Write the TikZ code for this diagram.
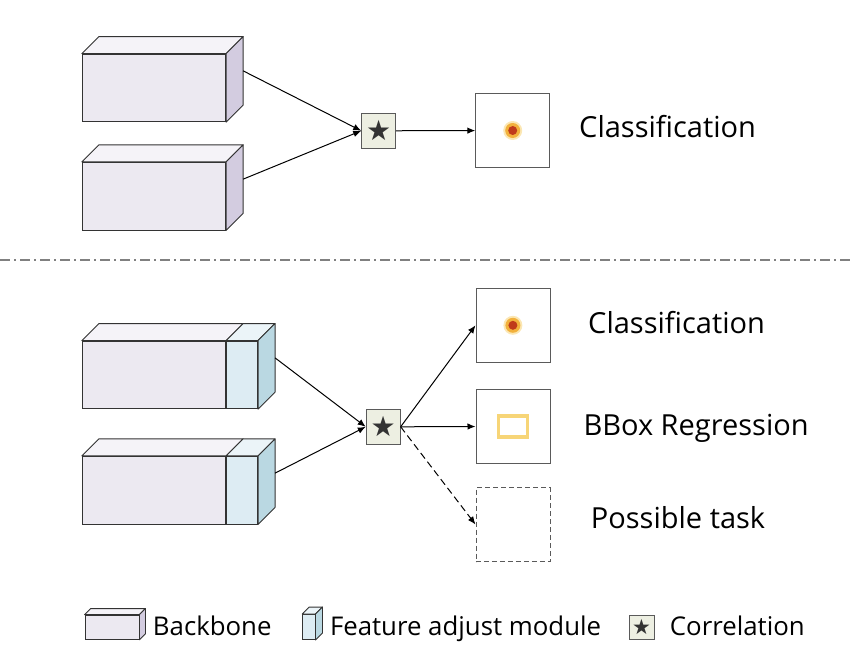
\documentclass[tikz,border=0pt]{standalone}
\usepackage{fontspec}
\setmainfont{Open Sans}
\newfontfamily\symfont{DejaVu Sans}
\usetikzlibrary{positioning,calc,arrows.meta}

\definecolor{bbfront}{HTML}{ECE9F1}
\definecolor{bbtop}{HTML}{F5F3F8}
\definecolor{bbside}{HTML}{D3CCE0}
\definecolor{fafront}{HTML}{DDECF3}
\definecolor{fatop}{HTML}{EBF4F8}
\definecolor{faside}{HTML}{BAD8E2}
\definecolor{corrfill}{HTML}{EDEFE2}
\definecolor{edge}{HTML}{333333}
\definecolor{boxedge}{HTML}{5A5A5A}
\definecolor{bboxgold}{HTML}{F7D577}
\definecolor{dotred}{HTML}{C03A1A}
\definecolor{dotring}{HTML}{F2B13C}
\definecolor{dothalo}{HTML}{FBE7B4}

% top and side face of a box drawn on a front node
\newcommand{\topface}[3]{%
  \draw[edge,fill=#3,line width=0.9pt,line join=round]
    (#1.north west) -- ++(#2,-#2) -- ($(#1.north east)+(#2,-#2)$) -- (#1.north east) -- cycle;}
\newcommand{\sideface}[3]{%
  \draw[edge,fill=#3,line width=0.9pt,line join=round]
    (#1.north east) -- ++(#2,-#2) -- ($(#1.south east)+(#2,-#2)$) -- (#1.south east) -- cycle;}

\begin{document}
\begin{tikzpicture}[
x=1pt,y=-1pt,
face/.style={
  draw=edge,
  line width=0.9pt,
  inner sep=0pt
},
backbone/.style={
  face,
  fill=bbfront,
  minimum width=143.4pt,
  minimum height=67.7pt
},
adjust/.style={
  face,
  fill=fafront,
  minimum width=31pt,
  minimum height=67.7pt
},
corr/.style={
  draw=boxedge,
  fill=corrfill,
  line width=0.9pt,
  text=edge,
  inner sep=0pt,
  minimum width=34pt,
  minimum height=35pt,
  font=\symfont\fontsize{28}{28}\selectfont
},
outbox/.style={
  draw=boxedge,
  line width=0.8pt,
  minimum size=74pt,
  inner sep=0pt
},
task/.style={
  anchor=base west,
  inner sep=0pt,
  font=\fontsize{29}{34}\selectfont
},
legtext/.style={
  inner sep=0pt,
  anchor=base west,
  yshift=-8pt,
  font=\fontsize{25.8}{30}\selectfont
},
conn/.style={
  line width=1pt,
  -{Latex[length=8pt,width=6.5pt]}
}
]
\useasboundingbox (0,0) rectangle (852,656);

% upper part
\node[backbone] (bb1) at (154,87.85) {};
\topface{bb1}{17}{bbtop}
\sideface{bb1}{17}{bbside}
\node[backbone] (bb2) at (154,196.15) {};
\topface{bb2}{17}{bbtop}
\sideface{bb2}{17}{bbside}
\coordinate (s1) at ($(bb1.east)+(17,-17)$);
\coordinate (s2) at ($(bb2.east)+(17,-17)$);

\node[corr] (corr1) at (378.7,130.8) {★};
\node[outbox] (out1) at (512.7,130.5) {};
\fill[dothalo] (out1.center) circle (9.5);
\fill[dotring] (out1.center) circle (7.5);
\fill[dotred] (out1.center) circle (4.5);
\node[task] (cls1) at (579,137.7) {Classification};

\draw[conn] (s1) -- (corr1.west);
\draw[conn] (s2) -- (corr1.west);
\draw[conn] (corr1) -- (out1);

% separator
\draw[gray,line width=1.2pt,dash pattern=on 10pt off 4pt on 2pt off 4pt] (0,260) -- (852,260);

% lower part
\node[backbone] (bb3) at (154,374.85) {};
\node[adjust,right=0pt of bb3] (fa3) {};
\topface{bb3}{17}{bbtop}
\topface{fa3}{17}{fatop}
\sideface{fa3}{17}{faside}
\node[backbone] (bb4) at (154,490.15) {};
\node[adjust,right=0pt of bb4] (fa4) {};
\topface{bb4}{17}{bbtop}
\topface{fa4}{17}{fatop}
\sideface{fa4}{17}{faside}
\coordinate (s3) at ($(fa3.east)+(17,-17)$);
\coordinate (s4) at ($(fa4.east)+(17,-17)$);

\node[corr] (corr2) at (383.2,426.8) {★};
\node[outbox] (out2) at (512.9,325.3) {};
\fill[dothalo] (out2.center) circle (9.5);
\fill[dotring] (out2.center) circle (7.5);
\fill[dotred] (out2.center) circle (4.5);
\node[outbox] (out3) at (512.9,426.5) {};
\draw[bboxgold,line width=3.6pt] ($(out3.center)+(-14.5,-10.5)$) rectangle ($(out3.center)+(14.5,10.5)$);
\node[outbox,dash pattern=on 5pt off 3pt] (out4) at (512.9,524.5) {};
\node[task] (cls2) at (588,333) {Classification};
\node[task] (reg) at (583.3,435) {BBox Regression};
\node[task] (poss) at (590.7,528.3) {Possible task};

\draw[conn] (s3) -- (corr2.west);
\draw[conn] (s4) -- (corr2.west);
\draw[conn] (corr2.east) -- (out2.west);
\draw[conn] (corr2.east) -- (out3.west);
\draw[conn,dash pattern=on 7pt off 4pt] (corr2.east) -- (out4.west);

% legend
\node[face,fill=bbfront,minimum width=54pt,minimum height=24.3pt] (lg1) at (112,627.2) {};
\topface{lg1}{6}{bbtop}
\sideface{lg1}{6}{bbside}
\node[right=13.3pt of lg1,legtext] (lt1) {Backbone};
\node[face,fill=fafront,minimum width=12.3pt,minimum height=25pt] (lg2) at (308.9,627) {};
\topface{lg2}{7}{fatop}
\sideface{lg2}{7}{faside}
\node[right=14.3pt of lg2,legtext] (lt2) {Feature adjust module};
\node[corr,minimum width=25pt,minimum height=24.3pt,font=\symfont\fontsize{21}{21}\selectfont] (lg3) at (641.5,627.2) {★};
\node[right=15.3pt of lg3,legtext] (lt3) {Correlation};
\end{tikzpicture}
\end{document}
